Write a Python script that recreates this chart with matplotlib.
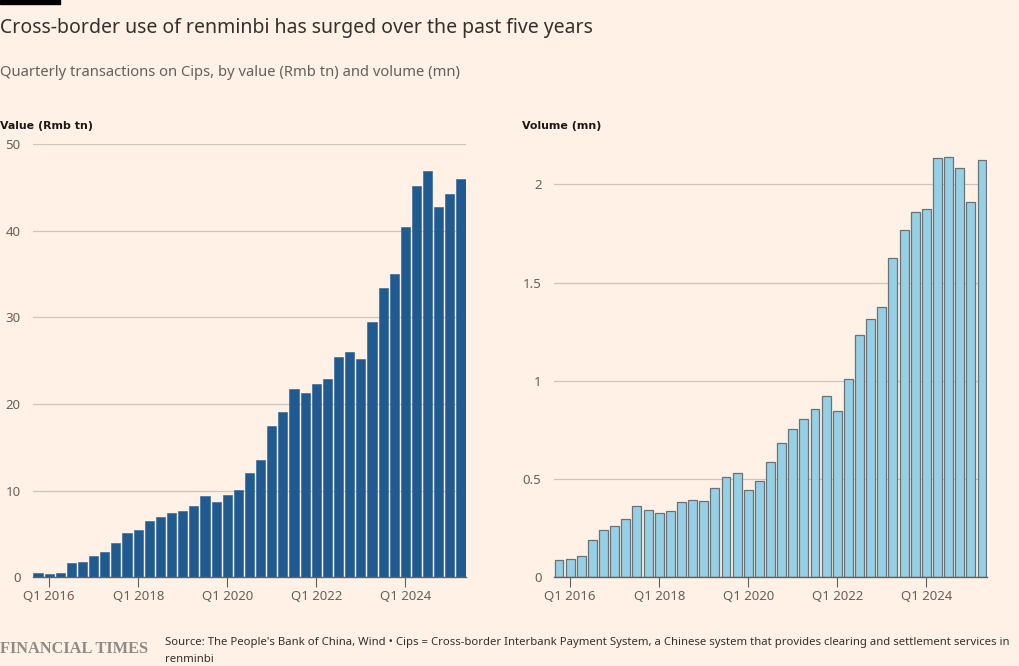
import matplotlib.pyplot as plt
from matplotlib.patches import Rectangle

# Quarterly Cips transactions, Q4 2015 .. Q2 2025
quarters = (["Q4 2015"]
            + [f"Q{q} {y}" for y in range(2016, 2025) for q in range(1, 5)]
            + ["Q1 2025", "Q2 2025"])

value_tn = [0.46, 0.35, 0.46, 1.7, 1.77, 2.46, 2.9, 3.96, 5.16, 5.47,
            6.54, 7.0, 7.43, 7.62, 8.2, 9.43, 8.66, 9.55, 10.08, 12.1,
            13.5, 17.5, 19.1, 21.7, 21.3, 22.3, 22.9, 25.4, 26.06, 25.2,
            29.5, 33.4, 35.0, 40.5, 45.2, 46.96, 42.8, 44.3, 45.96]

volume_mn = [0.087, 0.093, 0.109, 0.188, 0.239, 0.26, 0.295, 0.361, 0.341, 0.327,
             0.339, 0.382, 0.394, 0.388, 0.453, 0.512, 0.533, 0.444, 0.492, 0.585,
             0.684, 0.757, 0.806, 0.857, 0.923, 0.845, 1.011, 1.232, 1.315, 1.374,
             1.623, 1.768, 1.859, 1.873, 2.132, 2.139, 2.083, 1.912, 2.126]

tick_labels = ["Q1 2016", "Q1 2018", "Q1 2020", "Q1 2022", "Q1 2024"]

BG = "#FFF1E5"
GRID = "#CEC6BD"
TEXT = "#33302E"
MUTED = "#66605C"
FONT = "Noto Sans"

plt.rcParams["font.family"] = [FONT, "DejaVu Sans"]

fig = plt.figure(figsize=(10.2, 6.66), dpi=100, facecolor=BG)

# black FT bar top left
fig.patches.append(Rectangle((0, 1 - 4 / 666), 60 / 1020, 4 / 666,
                             transform=fig.transFigure, color="black", zorder=5))

fig.text(0.0, 1 - 28 / 666, "Cross-border use of renminbi has surged over the past five years",
         fontsize=14, color=TEXT, va="center", ha="left")
fig.text(0.0, 1 - 73 / 666, "Quarterly transactions on Cips, by value (Rmb tn) and volume (mn)",
         fontsize=10.65, color=MUTED, va="center", ha="left")
fig.text(0.0, 1 - 126 / 666, "Value (Rmb tn)", family=["DejaVu Sans"], fontsize=7.9,
         fontweight="bold", color="#1A1817", va="center", ha="left")
fig.text(522 / 1020, 1 - 126 / 666, "Volume (mn)", family=["DejaVu Sans"], fontsize=7.9,
         fontweight="bold", color="#1A1817", va="center", ha="left")

x = list(range(len(quarters)))
tick_pos = [quarters.index(t) for t in tick_labels]


def style_axis(ax, ymax, yticks, ylabels):
    ax.set_facecolor(BG)
    ax.set_xlim(-0.45, len(quarters) - 0.55)
    ax.set_ylim(0, ymax)
    ax.set_yticks(yticks)
    ax.set_yticklabels(ylabels)
    ax.grid(axis="y", color=GRID, linewidth=0.9)
    ax.set_axisbelow(True)
    for s in ["top", "right", "left"]:
        ax.spines[s].set_visible(False)
    ax.spines["bottom"].set_color(MUTED)
    ax.spines["bottom"].set_linewidth(1)
    ax.set_xticks(tick_pos)
    ax.set_xticklabels(tick_labels)
    ax.tick_params(axis="x", length=7, width=0.8, color=MUTED, labelcolor=MUTED,
                   labelsize=9.5, pad=2)
    ax.tick_params(axis="y", length=0, labelcolor=MUTED, labelsize=9.5, pad=9)


axL = fig.add_axes([33 / 1020, 1 - 577.3 / 666, 433 / 1020, 433 / 666])
axL.bar(x, value_tn, width=0.82, color="#1F5A91", edgecolor="#2A5E93", linewidth=0.4)
style_axis(axL, 50, [0, 10, 20, 30, 40, 50], ["0", "10", "20", "30", "40", "50"])

axR = fig.add_axes([554 / 1020, 1 - 577.3 / 666, 433 / 1020, 433 / 666])
axR.bar(x, volume_mn, width=0.8, color="#96D0E6", edgecolor="#6B7275", linewidth=0.9)
style_axis(axR, 2.204, [0, 0.5, 1, 1.5, 2], ["0", "0.5", "1", "1.5", "2"])

fig.text(0.0, 1 - 649 / 666, "FINANCIAL TIMES", family=["Liberation Serif"],
         fontsize=11.8, fontweight="bold", color="#8F8A86", va="center", ha="left")
fig.text(165 / 1020, 1 - 643 / 666,
         "Source: The People's Bank of China, Wind \u2022 Cips = Cross-border Interbank Payment System, "
         "a Chinese system that provides clearing and settlement services in",
         fontsize=8.15, color=TEXT, va="center", ha="left")
fig.text(165 / 1020, 1 - 659 / 666, "renminbi", fontsize=8.15, color=TEXT, va="center", ha="left")

fig.savefig("out.png", dpi=100, facecolor=BG)
